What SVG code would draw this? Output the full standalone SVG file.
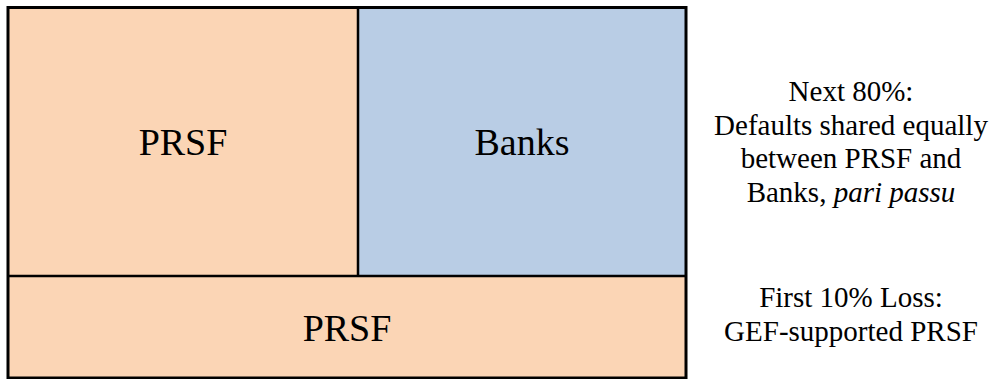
<svg xmlns="http://www.w3.org/2000/svg" width="992" height="379" viewBox="0 0 992 379">
<style>
.peach{fill:#FBD5B5}
.blue{fill:#B9CDE5}
.ln{stroke:#000;stroke-width:2.5;fill:none}
.big{font-family:"Liberation Serif","Times New Roman",serif;font-size:38px;fill:#000;text-anchor:middle}
.note{font-family:"Liberation Serif","Times New Roman",serif;font-size:29px;fill:#000;text-anchor:middle}
</style>
<rect width="992" height="379" fill="#fff"/>
<g id="prsf-top">
<rect class="peach" x="8" y="7.5" width="350" height="268.5"/>
<text class="big" x="183" y="155">PRSF</text>
</g>
<g id="banks">
<rect class="blue" x="358" y="7.5" width="328" height="268.5"/>
<text class="big" x="522" y="155">Banks</text>
</g>
<g id="prsf-bottom">
<rect class="peach" x="8" y="276" width="678" height="102"/>
<text class="big" x="347" y="341">PRSF</text>
</g>
<g id="lines">
<line class="ln" x1="358" y1="7.5" x2="358" y2="276"/>
<line class="ln" x1="8" y1="276" x2="686" y2="276"/>
<rect x="8" y="7.5" width="678" height="370.5" fill="none" stroke="#000" stroke-width="3"/>
</g>
<g id="note-top">
<text class="note" x="851" y="101">Next 80%:</text>
<text class="note" x="851" y="134.5">Defaults shared equally</text>
<text class="note" x="851" y="168">between PRSF and</text>
<text class="note" x="851" y="201.5">Banks, <tspan font-style="italic">pari passu</tspan></text>
</g>
<g id="note-bottom">
<text class="note" x="851" y="307">First 10% Loss:</text>
<text class="note" x="851" y="341">GEF-supported PRSF</text>
</g>
</svg>
